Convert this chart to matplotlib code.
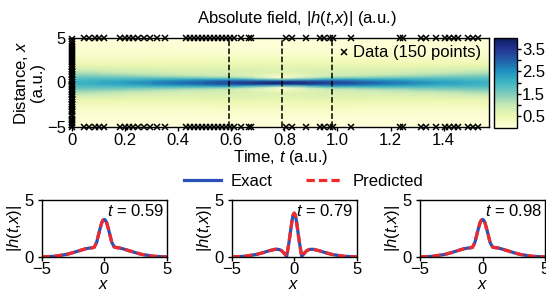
import numpy as np
import matplotlib
matplotlib.use("Agg")
import matplotlib.pyplot as plt

plt.rcParams['font.family'] = ['Liberation Sans', 'DejaVu Sans']
plt.rcParams['font.size'] = 12
plt.rcParams['mathtext.fontset'] = 'custom'
plt.rcParams['mathtext.rm'] = 'Liberation Sans'
plt.rcParams['mathtext.it'] = 'Liberation Sans:italic'
plt.rcParams['axes.linewidth'] = 1.0

# grid of the field |h(t,x)|
x_grid = [-5, -4, -3, -2.5, -2, -1.5, -1.2, -1, -0.8, -0.6, -0.4, -0.2, -0.1, 0,
          0.1, 0.2, 0.4, 0.6, 0.8, 1, 1.2, 1.5, 2, 2.5, 3, 4, 5]
t_grid = [0.0, 0.20, 0.40, 0.59, 0.785, 0.98, 1.17, 1.37, 1.571]

h_t000 = [0.03, 0.07, 0.20, 0.33, 0.53, 0.85, 1.11, 1.30, 1.50, 1.69, 1.85, 1.96, 1.99, 2.00,
          1.99, 1.96, 1.85, 1.69, 1.50, 1.30, 1.11, 0.85, 0.53, 0.33, 0.20, 0.07, 0.03]
h_t020 = [0.02, 0.07, 0.20, 0.33, 0.50, 0.75, 0.92, 1.10, 1.35, 1.65, 1.95, 2.20, 2.27, 2.30,
          2.27, 2.20, 1.95, 1.65, 1.35, 1.10, 0.92, 0.75, 0.50, 0.33, 0.20, 0.07, 0.02]
h_t040 = [0.02, 0.07, 0.21, 0.35, 0.52, 0.70, 0.82, 0.90, 1.10, 1.50, 2.10, 2.60, 2.75, 2.80,
          2.75, 2.60, 2.10, 1.50, 1.10, 0.90, 0.82, 0.70, 0.52, 0.35, 0.21, 0.07, 0.02]
h_t059 = [0.01, 0.06, 0.23, 0.38, 0.55, 0.72, 0.78, 0.80, 0.85, 1.30, 2.20, 3.00, 3.22, 3.30,
          3.22, 3.00, 2.20, 1.30, 0.88, 0.82, 0.80, 0.72, 0.55, 0.38, 0.23, 0.06, 0.01]
h_t079 = [0.01, 0.06, 0.23, 0.38, 0.55, 0.68, 0.66, 0.55, 0.32, 0.05, 1.40, 3.00, 3.65, 3.85,
          3.65, 3.00, 1.40, 0.05, 0.32, 0.55, 0.66, 0.68, 0.55, 0.38, 0.23, 0.06, 0.01]
h_t098 = [0.01, 0.06, 0.23, 0.38, 0.55, 0.72, 0.78, 0.80, 0.85, 1.30, 2.20, 3.00, 3.22, 3.30,
          3.22, 3.00, 2.20, 1.30, 0.88, 0.82, 0.80, 0.72, 0.55, 0.38, 0.23, 0.06, 0.01]
h_t117 = [0.02, 0.07, 0.21, 0.35, 0.52, 0.70, 0.82, 0.90, 1.10, 1.50, 2.10, 2.60, 2.75, 2.80,
          2.75, 2.60, 2.10, 1.50, 1.10, 0.90, 0.82, 0.70, 0.52, 0.35, 0.21, 0.07, 0.02]
h_t137 = [0.02, 0.07, 0.20, 0.33, 0.50, 0.75, 0.92, 1.10, 1.35, 1.65, 1.95, 2.20, 2.27, 2.30,
          2.27, 2.20, 1.95, 1.65, 1.35, 1.10, 0.92, 0.75, 0.50, 0.33, 0.20, 0.07, 0.02]
h_t157 = [0.03, 0.07, 0.20, 0.33, 0.53, 0.85, 1.11, 1.30, 1.50, 1.69, 1.85, 1.96, 1.99, 2.00,
          1.99, 1.96, 1.85, 1.69, 1.50, 1.30, 1.11, 0.85, 0.53, 0.33, 0.20, 0.07, 0.02]

# the three snapshots shown below
snap_times = [0.59, 0.79, 0.98]
snap_labels = ['0.59', '0.79', '0.98']
snap_exact = [h_t059, h_t079, h_t098]
snap_pred = [h_t059, h_t079, h_t098]

# training data: boundary times (plotted at x=5 and x=-5) and initial x positions (t=0)
t_boundary = [0.045, 0.065, 0.085, 0.10, 0.12,
              0.18, 0.20, 0.215, 0.23, 0.25, 0.27,
              0.295, 0.32, 0.35,
              0.43, 0.445, 0.46, 0.475, 0.49, 0.505, 0.52, 0.535, 0.55, 0.565, 0.58, 0.595,
              0.61, 0.635, 0.665, 0.675, 0.805, 0.83, 0.883,
              0.935, 0.95, 0.97, 0.985, 1.052, 1.235, 1.245,
              1.315, 1.335, 1.37, 1.405, 1.42, 1.44, 1.455, 1.49, 1.51, 1.53]
x_initial = [-4.95, -4.8, -4.6, -4.45, -4.2, -4.05, -3.8, -3.6, -3.35, -3.2,
             -3.0, -2.8, -2.55, -2.4, -2.2, -2.0, -1.85, -1.6, -1.45, -1.25,
             -1.05, -0.9, -0.7, -0.5, -0.3, -0.15, 0.05, 0.25, 0.4, 0.6,
             0.8, 1.0, 1.15, 1.3, 1.5, 1.7, 1.9, 2.1, 2.3, 2.55,
             2.75, 2.95, 3.2, 3.4, 3.6, 3.85, 4.05, 4.3, 4.55, 4.85]

field = np.array([h_t000, h_t020, h_t040, h_t059, h_t079, h_t098, h_t117, h_t137, h_t157]).T

fig = plt.figure(figsize=(5.46, 2.89), dpi=100)

W, H = 546.0, 289.0
def box(l, t, r, b):
    return [l / W, 1 - b / H, (r - l) / W, (b - t) / H]

fs = 12

ax = fig.add_axes(box(72, 38, 489, 127))
mesh = ax.pcolormesh(t_grid, x_grid, field, shading='gouraud', cmap='YlGnBu',
                     vmin=0, vmax=4.0, rasterized=True)
ax.set_xlim(0, np.pi / 2)
ax.set_ylim(-5, 5)
ax.set_xticks([0, 0.2, 0.4, 0.6, 0.8, 1.0, 1.2, 1.4])
ax.set_xticklabels(['0', '0.2', '0.4', '0.6', '0.8', '1.0', '1.2', '1.4'])
ax.set_yticks([-5, 0, 5])
ax.set_yticklabels(['\u22125', '0', '5'])
ax.tick_params(length=3, width=1, pad=1.5, labelsize=fs)

tb = np.array(t_boundary)
ax.plot(tb, np.full(len(tb), 5.0), 'kx', ms=4.5, mew=1.1, clip_on=False, label='Data (150 points)')
ax.plot(tb, np.full(len(tb), -5.0), 'kx', ms=4.5, mew=1.1, clip_on=False)
ax.plot(np.zeros(len(x_initial)), x_initial, 'kx', ms=4.5, mew=1.1, clip_on=False)

for ts in snap_times:
    ax.axvline(ts, color='k', ls='--', lw=1.1)

ax.legend(loc='upper right', frameon=False, handlelength=0.5, handletextpad=0.3,
          borderaxespad=0.15, borderpad=0.3, fontsize=fs, markerscale=0.9)
ax.set_xlabel(r'Time, $t$ (a.u.)', fontsize=fs, labelpad=0)
ax.set_ylabel('Distance, $x$\n(a.u.)', fontsize=fs, labelpad=1, linespacing=1.0)
fig.text(297 / W, 1 - 18 / H, r'Absolute field, |$h$($t$,$x$)| (a.u.)',
         ha='center', va='center', fontsize=fs)

cax = fig.add_axes(box(493.5, 37.5, 516.5, 127.5))
cb = fig.colorbar(mesh, cax=cax)
cb.set_ticks([0.5, 1.0, 1.5, 2.0, 2.5, 3.0, 3.5])
cb.set_ticklabels(['0.5', '', '1.5', '', '2.5', '', '3.5'])
cb.ax.tick_params(length=3, width=1, pad=1, labelsize=fs)
cb.outline.set_linewidth(1)

blue = '#2b50b8'
red = '#f02a2a'
lefts = [41.7, 231.7, 420.0]
for i in range(3):
    a = fig.add_axes(box(lefts[i], 200, lefts[i] + 125, 257))
    a.plot(x_grid, snap_exact[i], color=blue, lw=2.3, label='Exact')
    a.plot(x_grid, snap_pred[i], color=red, lw=2.3, ls=(0, (2.6, 1.3)), label='Predicted')
    a.set_xlim(-5, 5)
    a.set_ylim(0, 5)
    a.set_xticks([-5, 0, 5])
    a.set_xticklabels(['\u22125', '0', '5'])
    a.set_yticks([0, 5])
    a.tick_params(axis='x', length=3, width=1, pad=0.5, labelsize=fs)
    a.tick_params(axis='y', length=3, width=1, pad=3, labelsize=fs)
    a.set_xlabel(r'$x$', fontsize=fs, labelpad=0)
    a.set_ylabel(r'|$h$($t$,$x$)|', fontsize=fs, labelpad=0)
    a.text(0.975, 0.80, r'$t$ = ' + snap_labels[i], transform=a.transAxes,
           ha='right', va='center', fontsize=fs)
    if i == 0:
        handles, labels = a.get_legend_handles_labels()

fig.legend(handles, labels, loc='center', bbox_to_anchor=(304 / W, 1 - 181 / H), ncol=2,
           frameon=False, fontsize=fs, handlelength=2.2, columnspacing=2.0,
           handletextpad=0.6, borderpad=0)

fig.savefig('out.png', dpi=100)
